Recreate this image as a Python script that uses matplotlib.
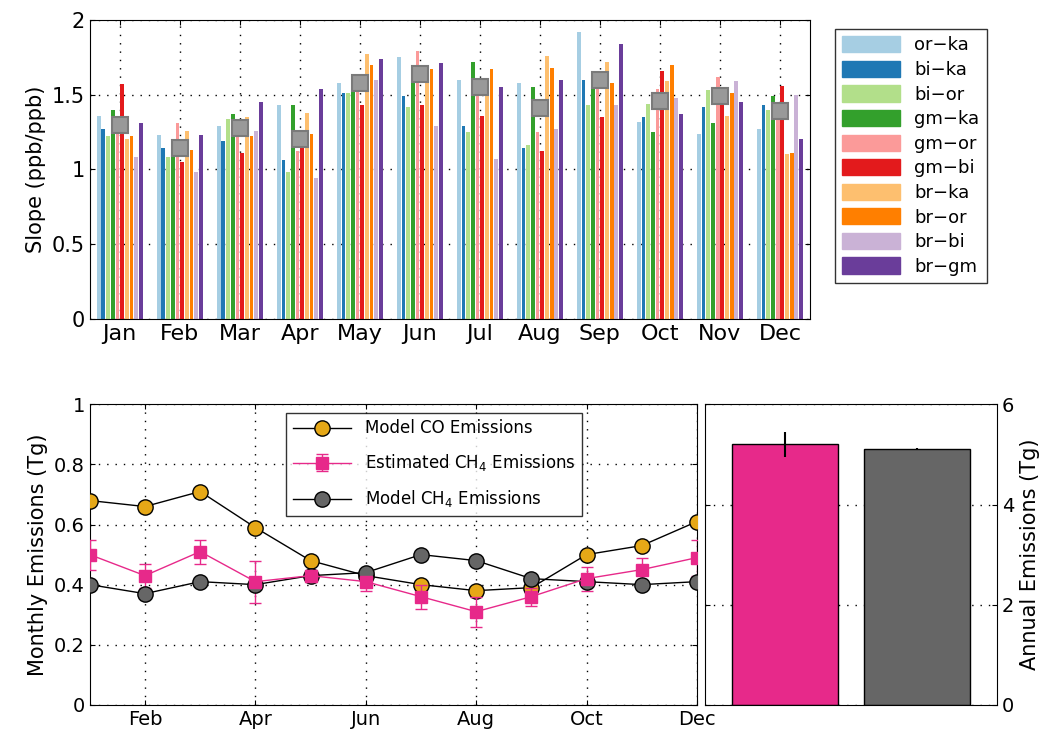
import numpy as np
import matplotlib
matplotlib.use('Agg')
import matplotlib.pyplot as plt
from matplotlib.patches import Patch

plt.rcParams['font.family'] = ['DejaVu Sans']

months = ['Jan', 'Feb', 'Mar', 'Apr', 'May', 'Jun', 'Jul', 'Aug', 'Sep', 'Oct', 'Nov', 'Dec']
pairs = ['or\u2212ka', 'bi\u2212ka', 'bi\u2212or', 'gm\u2212ka', 'gm\u2212or', 'gm\u2212bi', 'br\u2212ka', 'br\u2212or', 'br\u2212bi', 'br\u2212gm']
pair_colors = ['#a6cee3', '#1f78b4', '#b2df8a', '#33a02c', '#fb9a99', '#e31a1c', '#fdbf6f', '#ff7f00', '#cab2d6', '#6a3d9a']

# slopes[month][pair]
slopes = [
    [1.36, 1.27, 1.22, 1.40, 1.30, 1.57, 1.20, 1.22, 1.08, 1.31],
    [1.23, 1.14, 1.08, 1.12, 1.31, 1.05, 1.26, 1.13, 0.98, 1.23],
    [1.29, 1.19, 1.34, 1.37, 1.30, 1.11, 1.35, 1.22, 1.26, 1.45],
    [1.43, 1.06, 0.98, 1.43, 1.12, 1.15, 1.38, 1.24, 0.94, 1.54],
    [1.58, 1.51, 1.51, 1.57, 1.55, 1.43, 1.77, 1.70, 1.60, 1.74],
    [1.75, 1.49, 1.42, 1.65, 1.79, 1.43, 1.65, 1.67, 1.29, 1.71],
    [1.60, 1.29, 1.25, 1.72, 1.55, 1.36, 1.60, 1.67, 1.07, 1.55],
    [1.58, 1.14, 1.16, 1.55, 1.25, 1.12, 1.76, 1.68, 1.27, 1.60],
    [1.92, 1.60, 1.43, 1.61, 1.60, 1.35, 1.72, 1.58, 1.43, 1.84],
    [1.32, 1.35, 1.44, 1.25, 1.54, 1.66, 1.59, 1.70, 1.48, 1.37],
    [1.24, 1.42, 1.53, 1.31, 1.62, 1.54, 1.36, 1.51, 1.59, 1.45],
    [1.27, 1.43, 1.40, 1.49, 1.35, 1.56, 1.10, 1.11, 1.50, 1.20],
]
slope_mean = [1.30, 1.14, 1.28, 1.20, 1.58, 1.64, 1.55, 1.41, 1.60, 1.46, 1.49, 1.39]

co_model = [0.68, 0.66, 0.71, 0.59, 0.48, 0.43, 0.40, 0.38, 0.39, 0.50, 0.53, 0.61]
ch4_est = [0.50, 0.43, 0.51, 0.41, 0.43, 0.41, 0.36, 0.31, 0.36, 0.42, 0.45, 0.49]
ch4_est_err = [0.05, 0.04, 0.04, 0.07, 0.02, 0.03, 0.04, 0.05, 0.03, 0.04, 0.04, 0.06]
ch4_model = [0.40, 0.37, 0.41, 0.40, 0.43, 0.44, 0.50, 0.48, 0.42, 0.41, 0.40, 0.41]

annual_vals = [5.2, 5.1]
annual_err = [0.25, 0.02]
annual_colors = ['#e7298a', '#666666']

fig = plt.figure(figsize=(10.56, 7.38), dpi=100)

# ---- top: slopes ----
ax1 = fig.add_axes([0.085, 0.568, 0.682, 0.405])
x = np.arange(len(months))
w = 0.078
for j in range(len(pairs)):
    vals = [slopes[i][j] for i in range(len(months))]
    ax1.bar(x + (j - 4.5) * w, vals, width=w * 0.82, color=pair_colors[j], zorder=2, linewidth=0)
ax1.plot(x, slope_mean, 's', ms=11, color='#999999', mec='#7a7a7a', mew=1.5, zorder=3)
ax1.set_xlim(-0.5, 11.5)
ax1.set_ylim(0, 2)
ax1.set_xticks(x)
ax1.set_xticklabels(months, fontsize=16)
ax1.set_yticks([0, 0.5, 1, 1.5, 2])
ax1.set_yticklabels(['0', '0.5', '1', '1.5', '2'], fontsize=15)
ax1.set_ylabel('Slope (ppb/ppb)', fontsize=15)
ax1.grid(True, color='black', linestyle=(0, (1, 5)), linewidth=1)
ax1.tick_params(direction='in', top=True, right=True)
handles = [Patch(color=c) for c in pair_colors]
fig.legend(handles, pairs, loc='upper left', bbox_to_anchor=(0.782, 0.973),
           fontsize=13, frameon=True, fancybox=False, edgecolor='black',
           handlelength=3.2, handleheight=1.0, labelspacing=0.35)

# ---- bottom left: monthly emissions ----
ax2 = fig.add_axes([0.085, 0.045, 0.575, 0.407])
mx = np.arange(1, 13)
h1, = ax2.plot(mx, co_model, '-o', color='black', mfc='#e6a817', mec='black', ms=11, lw=1,
               zorder=3)
h2 = ax2.errorbar(mx, ch4_est, yerr=ch4_est_err, fmt='-s', color='#e7298a', ms=9, lw=1,
                  capsize=4, zorder=3)
h3, = ax2.plot(mx, ch4_model, '-o', color='black', mfc='#666666', mec='black', ms=11, lw=1,
               zorder=3)
ax2.set_xlim(1, 12)
ax2.set_ylim(0, 1)
ax2.set_xticks([2, 4, 6, 8, 10, 12])
ax2.set_xticklabels(['Feb', 'Apr', 'Jun', 'Aug', 'Oct', 'Dec'], fontsize=14)
ax2.set_yticks(np.arange(0, 1.01, 0.2))
ax2.set_yticklabels(['0', '0.2', '0.4', '0.6', '0.8', '1'], fontsize=14)
ax2.set_ylabel('Monthly Emissions (Tg)', fontsize=15)
ax2.grid(True, color='black', linestyle=(0, (1, 5)), linewidth=1)
ax2.tick_params(direction='in', top=True, right=True)
ax2.legend([h1, h2, h3],
           ['Model CO Emissions', 'Estimated CH$_4$ Emissions', 'Model CH$_4$ Emissions'],
           loc='upper left', bbox_to_anchor=(0.31, 1.0), fontsize=12, fancybox=False,
           edgecolor='black', handlelength=3.5, labelspacing=0.9)

# ---- bottom right: annual ----
ax3 = fig.add_axes([0.668, 0.045, 0.276, 0.407])
ax3.bar([0, 1], annual_vals, width=0.8, color=annual_colors, edgecolor='black', zorder=2)
ax3.errorbar([0, 1], annual_vals, yerr=annual_err, fmt='none', ecolor='black', lw=1.5, zorder=3)
ax3.set_xlim(-0.6, 1.6)
ax3.set_ylim(0, 6)
ax3.set_xticks([])
ax3.set_yticks([0, 2, 4, 6])
ax3.yaxis.tick_right()
ax3.yaxis.set_label_position('right')
ax3.tick_params(axis='y', labelsize=14, direction='in', left=True)
ax3.set_ylabel('Annual Emissions (Tg)', fontsize=15)
ax3.grid(True, axis='y', color='black', linestyle=(0, (1, 5)), linewidth=1)

fig.savefig('out.png', dpi=100)
